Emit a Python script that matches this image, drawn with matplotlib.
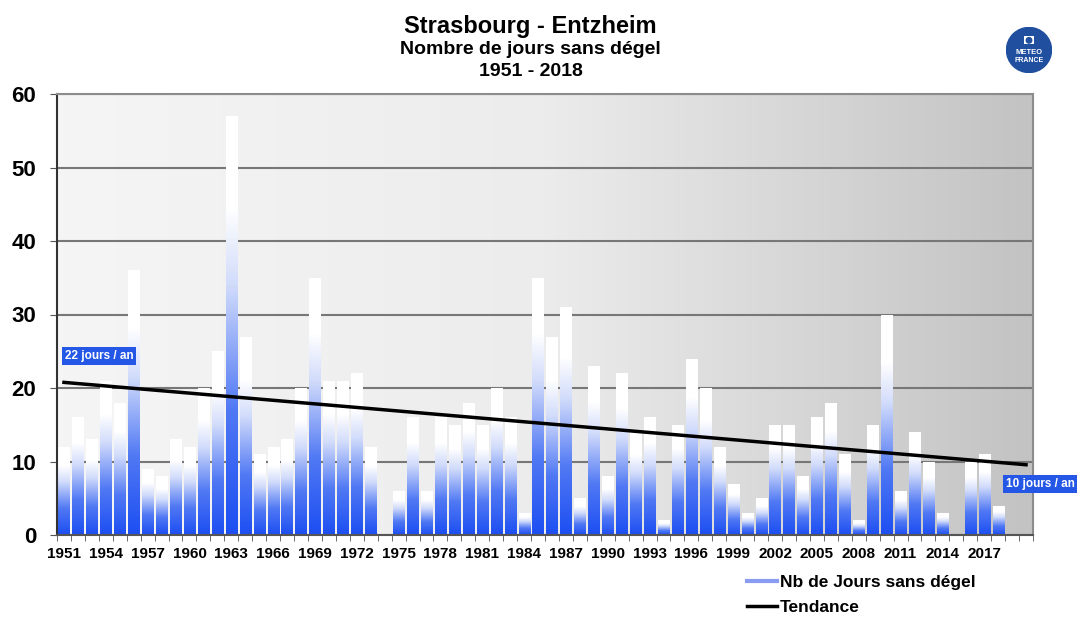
import numpy as np
import matplotlib.pyplot as plt
from matplotlib.colors import LinearSegmentedColormap
from matplotlib.lines import Line2D
from matplotlib.patches import Circle, Rectangle

plt.rcParams['font.family'] = ['Liberation Sans', 'DejaVu Sans']
plt.rcParams['font.weight'] = 'bold'

# categories 1951..2020, values known up to 2018
years = list(range(1951, 2021))
jours = [12, 16, 13, 21, 18, 36, 9, 8, 13, 12,
         20, 25, 57, 27, 11, 12, 13, 20, 35, 21,
         21, 22, 12, 0, 6, 16, 6, 16, 15, 18,
         15, 20, 16, 3, 35, 27, 31, 5, 23, 8,
         22, 14, 16, 2, 15, 24, 20, 12, 7, 3,
         5, 15, 15, 8, 16, 18, 11, 2, 15, 30,
         6, 14, 10, 3, 0, 10, 11, 4]
label_years = list(range(1951, 2018, 3))
y_ticks = [0, 10, 20, 30, 40, 50, 60]
trend_labels = ['22 jours / an', '10 jours / an']

fig = plt.figure(figsize=(10.81, 6.19), dpi=100)
ax = fig.add_axes([57 / 1081, 1 - 535 / 619, 976 / 1081, 441 / 619])

n = len(years)
x = np.arange(len(jours))

# plot area background, light on the left, grey on the right
bg_cmap = LinearSegmentedColormap.from_list('bg', ['#f5f5f5', '#ececec', '#c3c3c3'])
ax.imshow(np.linspace(0, 1, 256).reshape(1, -1), cmap=bg_cmap, aspect='auto',
          extent=[-0.5, n - 0.5, 0, 60], zorder=0, interpolation='bilinear')

# bars with blue -> white gradient
bar_cmap = LinearSegmentedColormap.from_list(
    'bar', [(0, '#1c4ef2'), (0.3, '#5179f4'), (0.6, '#d2dcfb'), (0.78, '#ffffff'), (1, '#ffffff')])
grad = np.linspace(0, 1, 256).reshape(-1, 1)
bars = ax.bar(x, jours, width=0.8, facecolor='none', edgecolor='none', zorder=2)
for b in bars:
    h = b.get_height()
    if h <= 0:
        continue
    im = ax.imshow(grad, cmap=bar_cmap, origin='lower', aspect='auto', interpolation='bilinear',
                   extent=[b.get_x(), b.get_x() + b.get_width(), 0, h], zorder=2)
    im.set_clip_path(b)

# trend line
slope, inter = np.polyfit(x, jours, 1)
xt = np.array([0, n - 1])
ax.plot(xt, inter + slope * xt, color='black', lw=2.5, zorder=3)

box = dict(boxstyle='square,pad=0.25', facecolor='#2457e6', edgecolor='none')
ax.text(2.5, 24.3, trend_labels[0], color='white', fontsize=8.5, ha='center', va='center',
        bbox=box, zorder=4)
ax.text(70.0, 7.0, trend_labels[1], color='white', fontsize=8.5, ha='center', va='center',
        bbox=box, zorder=4, clip_on=False)

ax.set_xlim(-0.5, n - 0.5)
ax.set_ylim(0, 60)
ax.set_yticks(y_ticks)
ax.set_yticklabels([str(t) for t in y_ticks], fontsize=16, fontweight='bold')
ax.set_xticks([years.index(y) for y in label_years])
ax.set_xticklabels([str(y) for y in label_years], fontsize=11, fontweight='bold')
ax.set_xticks(np.arange(-0.5, n, 1), minor=True)
ax.tick_params(axis='x', which='major', length=0, pad=9)
ax.tick_params(axis='x', which='minor', length=4, color='#555555')
ax.tick_params(axis='y', length=5, color='#555555', pad=10)

ax.yaxis.grid(True, color='#777777', lw=1.5)
ax.set_axisbelow(True)
for s in ['top', 'right']:
    ax.spines[s].set_color('#8c8c8c')
    ax.spines[s].set_linewidth(1.5)
ax.spines['left'].set_color('#333333')
ax.spines['left'].set_linewidth(1.5)
ax.spines['bottom'].set_color('#555555')
ax.spines['bottom'].set_linewidth(1.5)

# titles
fig.text(0.491, 1 - 27 / 619, 'Strasbourg - Entzheim', ha='center', va='center', fontsize=17)
fig.text(0.491, 1 - 50 / 619, 'Nombre de jours sans dégel', ha='center', va='center', fontsize=14)
fig.text(0.491, 1 - 72 / 619, '1951 - 2018', ha='center', va='center', fontsize=14)

# legend
handles = [Line2D([], [], color='#8a9cf2', lw=3),
           Line2D([], [], color='black', lw=2.5)]
fig.legend(handles, ['Nb de Jours sans dégel', 'Tendance'], loc='upper left',
           bbox_to_anchor=(747 / 1081, 1 - 575 / 619), frameon=False, fontsize=12.5,
           handlelength=1.7, handletextpad=0.2, labelspacing=0.55, borderpad=0, borderaxespad=0)

# logo
lax = fig.add_axes([1006 / 1081, 1 - 73 / 619, 46 / 1081, 46 / 619])
lax.set_xlim(0, 1)
lax.set_ylim(0, 1)
lax.axis('off')
lax.add_patch(Circle((0.5, 0.5), 0.49, color='#1f4f9e'))
lax.add_patch(Rectangle((0.4, 0.62), 0.2, 0.18, facecolor='white', edgecolor='none'))
lax.add_patch(Circle((0.5, 0.71), 0.06, color='#1f4f9e'))
lax.text(0.5, 0.45, 'METEO', color='white', fontsize=5.5, ha='center', va='center')
lax.text(0.5, 0.28, 'FRANCE', color='white', fontsize=5, ha='center', va='center')

fig.savefig('out.png', dpi=100, facecolor='white')
